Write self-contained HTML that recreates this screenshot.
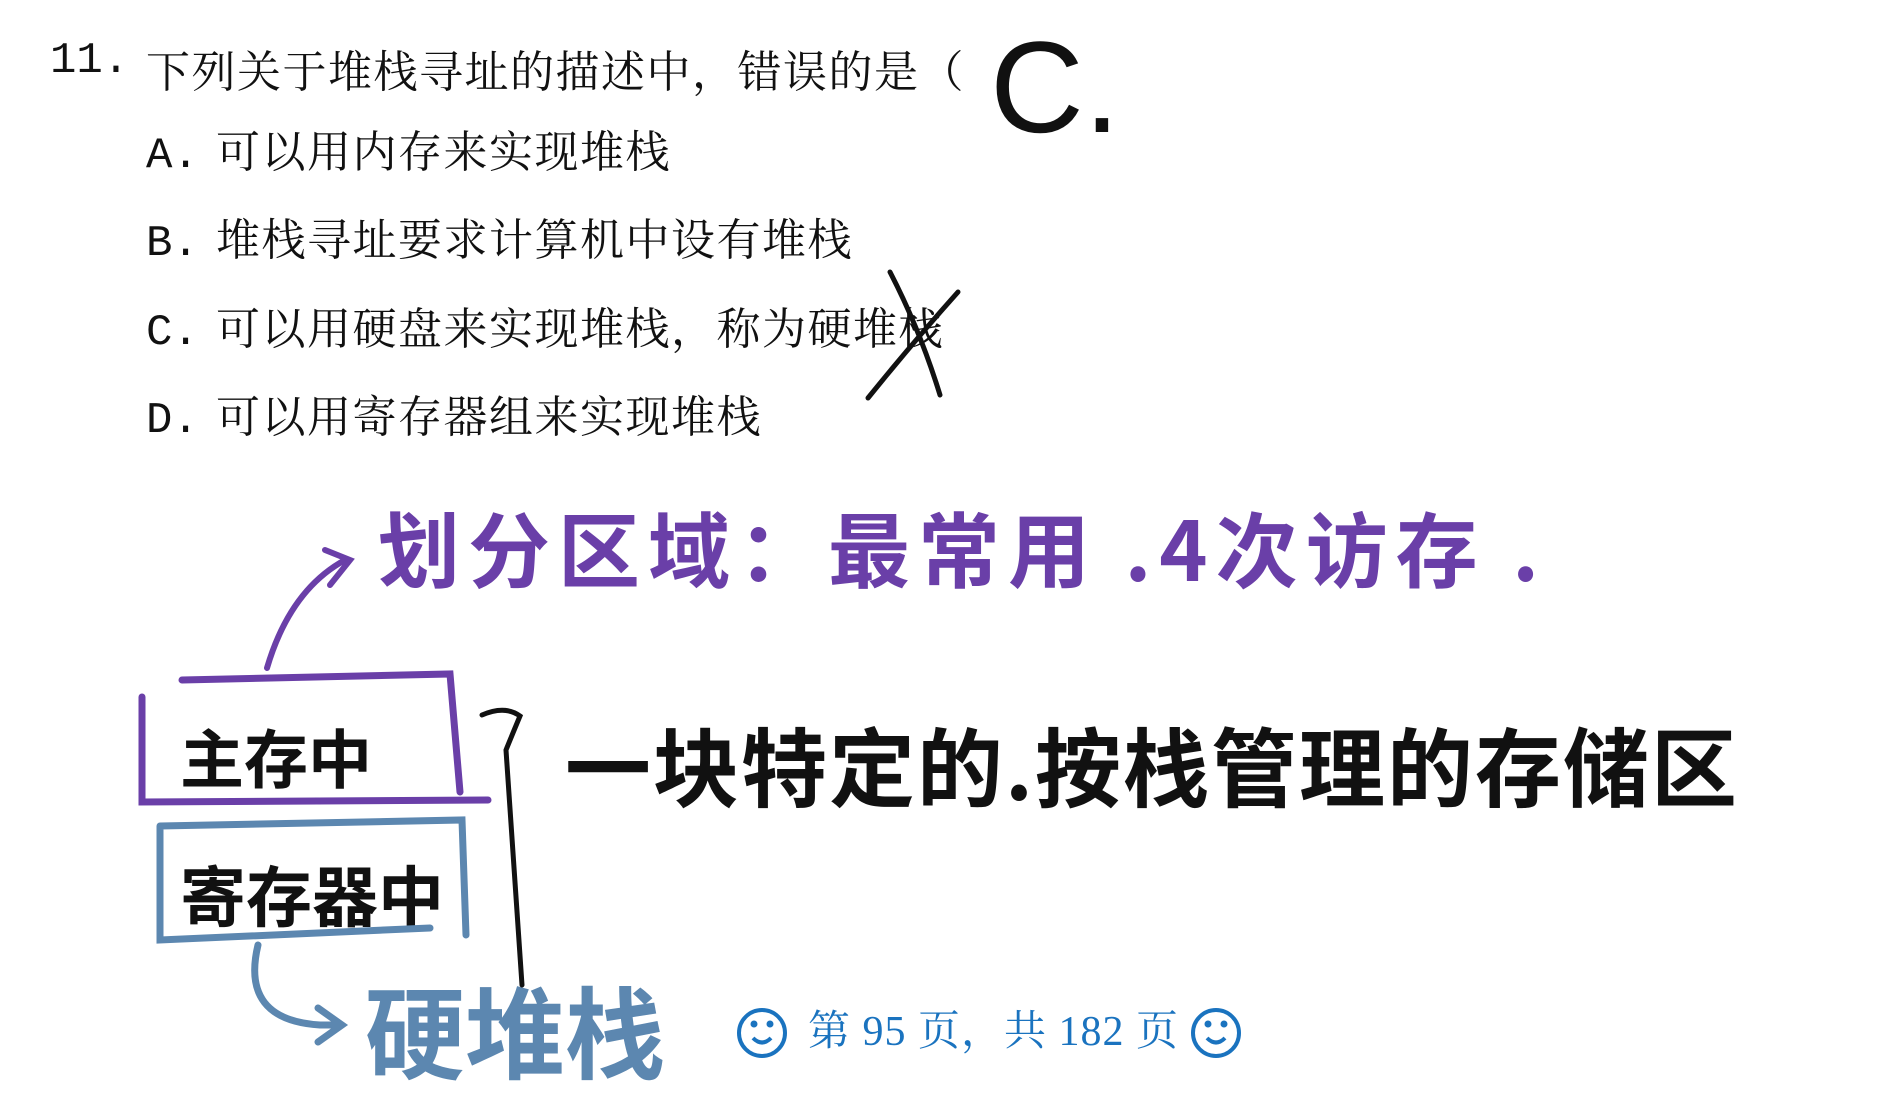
<!DOCTYPE html>
<html><head><meta charset="utf-8"><style>
body{margin:0;width:1897px;height:1099px;background:#fff;position:relative;overflow:hidden;font-family:"Liberation Serif","Noto Serif CJK SC",serif;}
.t{position:absolute;white-space:nowrap;color:#111;}
.q{font-size:44px;letter-spacing:1.5px;}
.lab{font-family:"Liberation Mono",monospace;display:inline-block;width:70px;letter-spacing:0;}
.h{font-family:"WenQuanYi Zen Hei","Noto Sans CJK SC",sans-serif;font-weight:bold;}
svg{position:absolute;left:0;top:0;}
</style></head><body>
<div class="t q" style="left:50px;top:36px;font-family:'Liberation Mono',monospace;letter-spacing:0;">11.</div>
<div class="t q" style="left:146px;top:36px;">下列关于堆栈寻址的描述中，错误的是（</div>
<div class="t q" style="left:146px;top:116px;"><span class="lab">A.</span>可以用内存来实现堆栈</div>
<div class="t q" style="left:146px;top:204px;"><span class="lab">B.</span>堆栈寻址要求计算机中设有堆栈</div>
<div class="t q" style="left:146px;top:293px;"><span class="lab">C.</span>可以用硬盘来实现堆栈，称为硬堆栈</div>
<div class="t q" style="left:146px;top:381px;"><span class="lab">D.</span>可以用寄存器组来实现堆栈</div>

<div class="t h" style="left:378px;top:486px;font-size:82px;color:#6a3fa8;letter-spacing:8px;">划分区域：最常用 .4次访存 .</div>
<div class="t h" style="left:180px;top:710px;font-size:64px;color:#111;">主存中</div>
<div class="t h" style="left:180px;top:845px;font-size:66px;color:#111;">寄存器中</div>
<div class="t h" style="left:565px;top:700px;font-size:86px;color:#111;letter-spacing:2px;">一块特定的.按栈管理的存储区</div>
<div class="t h" style="left:365px;top:955px;font-size:100px;color:#5c87b0;">硬堆栈</div>
<div class="t" style="left:990px;top:12px;font-size:130px;color:#111;font-family:'Liberation Sans',sans-serif;">C.</div>

<div class="t" style="left:808px;top:998px;font-size:42px;color:#1a73bf;letter-spacing:1px;">第 95 页，共 182 页</div>

<svg width="1897" height="1099">
<g stroke="#111" stroke-width="5" fill="none" stroke-linecap="round">
<path d="M890 272 Q920 330 940 395"/><path d="M958 292 Q915 340 868 398"/></g>
<path d="M267 668 Q290 590 345 560 M325 550 L350 560 L330 585" stroke="#6a3fa8" stroke-width="6" fill="none" stroke-linecap="round"/>
<path d="M142 697 L142 802 L488 800 M182 680 L450 674 L460 792" stroke="#6a3fa8" stroke-width="7" fill="none" stroke-linecap="round"/>
<path d="M160 826 L160 940 L430 928 M160 826 L462 820 L466 935" stroke="#5c87b0" stroke-width="7" fill="none" stroke-linecap="round"/>
<path d="M482 715 Q505 705 520 716 Q510 740 506 750 L522 985" stroke="#111" stroke-width="5" fill="none" stroke-linecap="round"/>
<path d="M258 945 Q240 1020 320 1025 L340 1025 M318 1008 L342 1025 L318 1042" stroke="#5c87b0" stroke-width="7" fill="none" stroke-linecap="round"/>
<g stroke="#1a73bf" stroke-width="4" fill="none"><circle cx="762" cy="1033" r="23"/><path d="M753 1038 Q762 1047 771 1038"/><circle cx="754" cy="1024" r="1.5" fill="#1a73bf"/><circle cx="770" cy="1024" r="1.5" fill="#1a73bf"/></g>
<g stroke="#1a73bf" stroke-width="4" fill="none"><circle cx="1216" cy="1033" r="23"/><path d="M1207 1038 Q1216 1047 1225 1038"/><circle cx="1208" cy="1024" r="1.5" fill="#1a73bf"/><circle cx="1224" cy="1024" r="1.5" fill="#1a73bf"/></g>
</svg>
</body></html>
